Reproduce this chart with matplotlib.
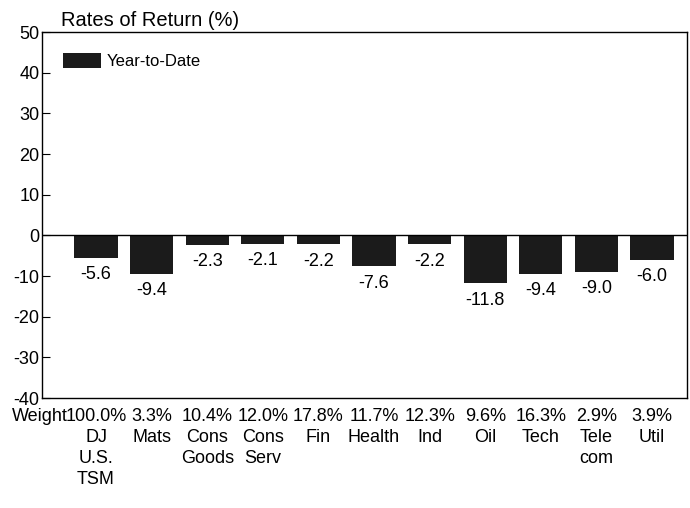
import matplotlib.pyplot as plt
from matplotlib import transforms

# Data
sectors = ["DJ\nU.S.\nTSM", "Mats", "Cons\nGoods", "Cons\nServ", "Fin", "Health",
           "Ind", "Oil", "Tech", "Tele\ncom", "Util"]
weights = ["100.0%", "3.3%", "10.4%", "12.0%", "17.8%", "11.7%", "12.3%", "9.6%",
           "16.3%", "2.9%", "3.9%"]
ytd = [-5.6, -9.4, -2.3, -2.1, -2.2, -7.6, -2.2, -11.8, -9.4, -9.0, -6.0]

plt.rcParams['font.family'] = ['Liberation Sans', 'DejaVu Sans']
plt.rcParams['axes.unicode_minus'] = False

fig = plt.figure(figsize=(6.9, 5.08), dpi=100)
ax = fig.add_axes([0.061, 0.2165, 0.9347, 0.7205])

x = list(range(len(ytd)))
ax.bar(x, ytd, width=0.78, color='#1b1b1b', label='Year-to-Date')

# value labels under each bar
for xi, v in zip(x, ytd):
    ax.annotate(f"{v:.1f}", (xi, v), xytext=(0, -6), textcoords='offset points',
                ha='center', va='top', fontsize=13)

ax.axhline(0, color='black', lw=1)

ax.set_ylim(-40, 50)
ax.set_xlim(-0.97, 10.63)
ax.set_yticks(range(-40, 51, 10))
ax.tick_params(axis='y', direction='in', length=6, pad=2, labelsize=13)
ax.set_xticks(x)
ax.set_xticklabels([w + "\n" + s for w, s in zip(weights, sectors)],
                   fontsize=13, linespacing=1.3)
ax.tick_params(axis='x', length=0, pad=7.5)

# "Weight" row header, left of the first tick label
trans = transforms.blended_transform_factory(ax.transData, ax.transAxes)
ax.annotate("Weight", (-0.5, 0), xycoords=trans, xytext=(0, -7.5),
            textcoords='offset points', ha='right', va='top', fontsize=13)

for s in ax.spines.values():
    s.set_linewidth(1)

ax.set_title("Rates of Return (%)", loc='left', fontsize=14.5, x=0.03, pad=4)

ax.legend(loc='upper left', frameon=False, fontsize=12, handlelength=2.3,
          handleheight=1.0, borderaxespad=0.85, handletextpad=0.3)

fig.savefig("out.png", dpi=100)
